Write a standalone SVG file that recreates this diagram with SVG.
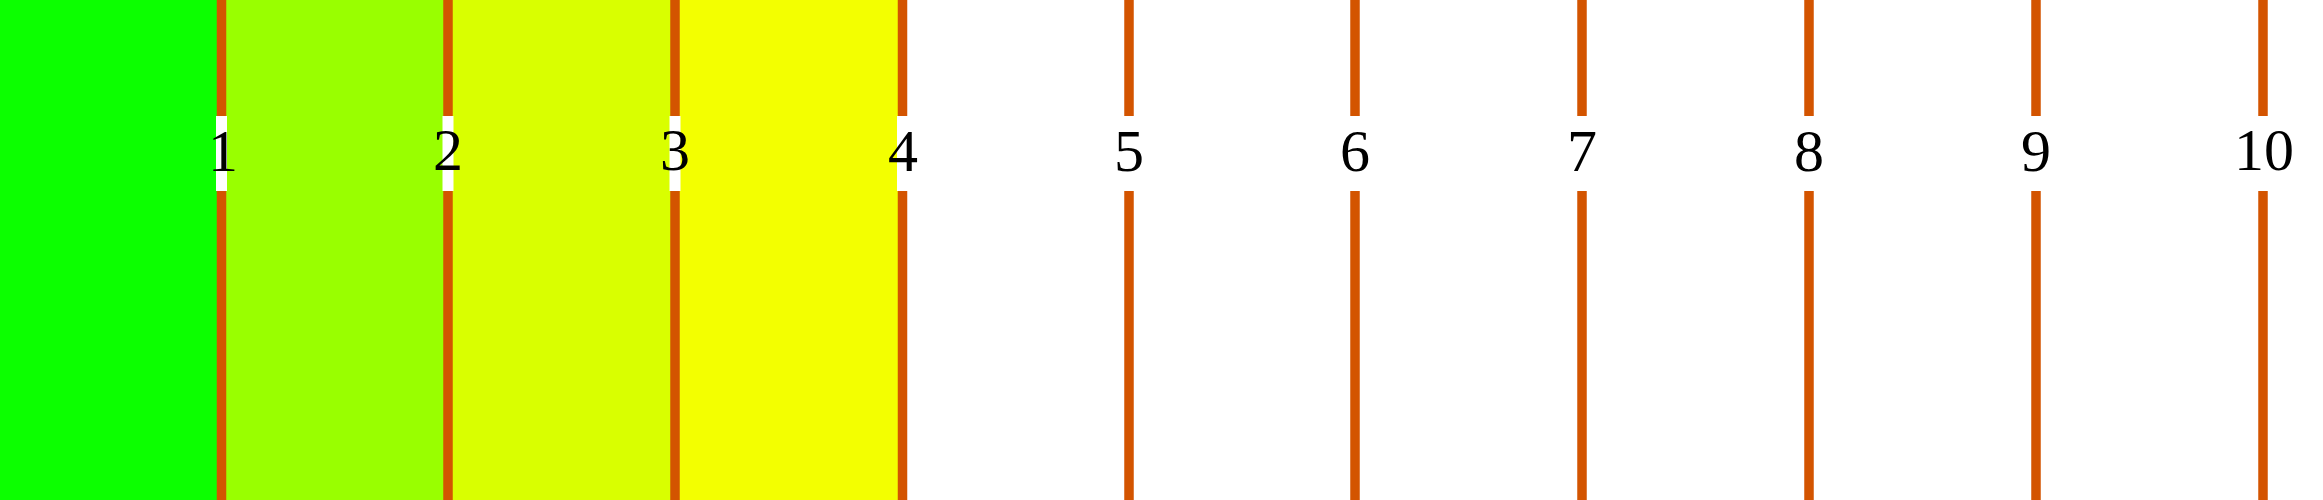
<svg xmlns="http://www.w3.org/2000/svg" width="2323" height="500" viewBox="0 0 2323 500">
<style>
.tick{stroke:#d35400;stroke-width:9.5;fill:none}
</style>
<rect width="2323" height="500" fill="#ffffff"/>
<g id="bands">
<rect x="0" y="0" width="221.5" height="500" fill="#0cff00"/>
<rect x="221.5" y="0" width="226.5" height="500" fill="#99ff00"/>
<rect x="448" y="0" width="227" height="500" fill="#d9ff00"/>
<rect x="675" y="0" width="227.5" height="500" fill="#f3ff00"/>
</g>
<g id="gaps" fill="#ffffff">
<rect x="216" y="116" width="11" height="75"/>
<rect x="442.5" y="116" width="11" height="75"/>
<rect x="669.5" y="116" width="11" height="75"/>
<rect x="897" y="116" width="11" height="75"/>
</g>
<g id="connectors">
<path class="tick" d="M221.5 0V116M221.5 191V500"/>
<path class="tick" d="M448 0V116M448 191V500"/>
<path class="tick" d="M675 0V116M675 191V500"/>
<path class="tick" d="M902.5 0V116M902.5 191V500"/>
<path class="tick" d="M1129 0V116M1129 191V500"/>
<path class="tick" d="M1355 0V116M1355 191V500"/>
<path class="tick" d="M1582 0V116M1582 191V500"/>
<path class="tick" d="M1809 0V116M1809 191V500"/>
<path class="tick" d="M2036 0V116M2036 191V500"/>
<path class="tick" d="M2263 0V116M2263 191V500"/>
</g>
<g font-family="'Liberation Serif','DejaVu Serif',serif" font-size="60" fill="#000000" text-anchor="middle">
<g id="n1"><text x="223" y="171">1</text></g>
<g id="n2"><text x="448" y="170">2</text></g>
<g id="n3"><text x="675" y="170">3</text></g>
<g id="n4"><text x="903" y="171">4</text></g>
<g id="n5"><text x="1129" y="171">5</text></g>
<g id="n6"><text x="1355" y="171">6</text></g>
<g id="n7"><text x="1582" y="171">7</text></g>
<g id="n8"><text x="1809" y="171">8</text></g>
<g id="n9"><text x="2036" y="171">9</text></g>
<g id="n10"><text x="2264" y="170">10</text></g>
</g>
</svg>
